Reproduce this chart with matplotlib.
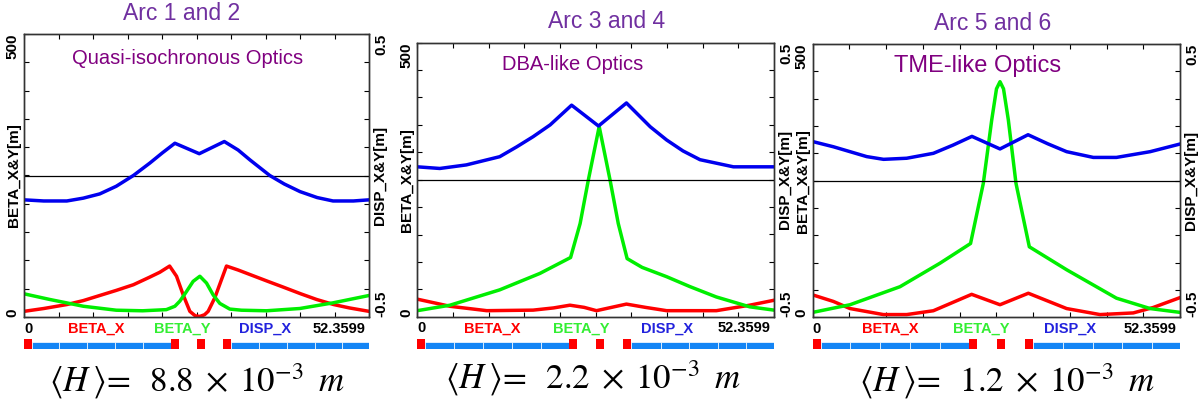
import numpy as np
import matplotlib
matplotlib.use('Agg')
import matplotlib.pyplot as plt

plt.rcParams['font.family'] = ['Liberation Sans', 'DejaVu Sans']
plt.rcParams['mathtext.fontset'] = 'stix'

# cell length [m]
s_max = 52.3599

titles = ['Arc 1 and 2', 'Arc 3 and 4', 'Arc 5 and 6']
optics = ['Quasi-isochronous Optics', 'DBA-like Optics', 'TME-like Optics']
h_mean = ['8.8', '2.2', '1.2']

# ---- Arc 1 and 2 ----
a12_s_dx = [0, 3.0, 6.5, 9.0, 11.5, 14.0, 16.6, 19.1, 21.0, 22.9, 26.6, 30.4, 32.5,
            34.3, 37.3, 39.5, 41.9, 44.5, 46.9, 50.0, 52.36]
a12_dx = [-0.086, -0.090, -0.090, -0.080, -0.065, -0.038, 0.0, 0.044, 0.080, 0.114,
          0.077, 0.120, 0.090, 0.055, 0.0, -0.030, -0.057, -0.078, -0.090, -0.090, -0.086]
a12_s_bx = [0, 3.0, 6.5, 9.0, 11.5, 14.0, 16.6, 19.0, 20.6, 22.1, 23.15, 24.16, 25.17,
            26.0, 26.69, 27.4, 27.95, 28.96, 29.97, 30.73, 32.5, 34.3, 37.0, 39.3,
            42.0, 44.4, 47.0, 49.4, 52.36]
a12_bx = [10, 15, 22, 29, 38, 47, 57, 70, 79, 90, 72, 39, 10, 2, 1, 4, 10, 34, 66, 90,
          83, 75, 63, 53, 41, 31, 22, 16, 10]
a12_s_by = [0, 3.9, 9.0, 14.0, 18.0, 21.6, 22.9, 23.65, 24.66, 25.67, 26.69, 27.7,
            28.71, 29.72, 31.23, 33.0, 36.8, 41.85, 46.9, 52.36]
a12_by = [41, 31, 19, 12, 11, 13, 19, 28, 45, 63, 72, 60, 39, 24, 14, 12, 11, 15, 25, 38]

# ---- Arc 3 and 4 ----
a34_s_dx = [0, 3.3, 7.2, 12.1, 14.6, 17.0, 19.5, 22.65, 26.6, 30.7, 34.2, 36.6, 39.0,
            41.5, 46.4, 52.36]
a34_dx = [0.047, 0.041, 0.054, 0.084, 0.120, 0.157, 0.200, 0.272, 0.196, 0.280, 0.193,
          0.145, 0.105, 0.073, 0.047, 0.047]
a34_s_bx = [0, 4.8, 10.2, 17.0, 20.0, 22.4, 24.5, 26.3, 28.5, 30.7, 33.5, 36.6, 43.9,
            48.8, 52.36]
a34_bx = [32, 19, 11, 12, 16, 21, 17, 11, 17, 23, 17, 11, 11, 21, 30]
a34_s_by = [0, 4.8, 12.1, 18.0, 22.5, 23.9, 25.1, 25.9, 26.7, 27.5, 28.3, 29.5, 30.8,
            33.0, 36.6, 40.0, 43.9, 48.8, 52.36]
a34_by = [11, 21, 49, 79, 108, 170, 249, 298, 347, 298, 249, 170, 106, 90, 73, 55, 36,
          18, 12]

# ---- Arc 5 and 6 ----
a56_s_dx = [0, 2.95, 7.7, 10.1, 13.4, 17.2, 20.0, 22.7, 26.7, 30.7, 33.5, 36.2, 40.0,
            43.3, 48.1, 52.36]
a56_dx = [0.143, 0.124, 0.088, 0.078, 0.082, 0.100, 0.130, 0.162, 0.116, 0.168, 0.135,
          0.106, 0.085, 0.085, 0.106, 0.134]
a56_s_bx = [0, 2.95, 5.32, 10.07, 13.4, 17.2, 22.66, 26.7, 30.74, 36.2, 40.95, 45.7,
            48.55, 52.36]
a56_bx = [41, 29, 16, 5, 5, 12, 42, 23, 44, 16, 5, 8, 18, 36]
a56_s_by = [0, 5.32, 12.45, 18.15, 22.5, 24.32, 25.52, 26.2, 26.7, 27.2, 27.89, 28.98,
            30.88, 36.2, 43.3, 48.1, 52.36]
a56_by = [9, 23, 56, 99, 135, 245, 361, 418, 431, 418, 361, 245, 129, 87, 35, 16, 9]

# magnet layout of the cell (same for all arcs)
dipoles = [(0, 1.15), (22.3, 23.45), (26.3, 27.4), (30.2, 31.35)]
quad_edges = [1.15, 5.36, 9.6, 13.85, 18.1, 22.3, 31.35, 35.7, 39.9, 44.1, 48.3, s_max]

arcs = [
    (a12_s_bx, a12_bx, a12_s_by, a12_by, a12_s_dx, a12_dx),
    (a34_s_bx, a34_bx, a34_s_by, a34_by, a34_s_dx, a34_dx),
    (a56_s_bx, a56_bx, a56_s_by, a56_by, a56_s_dx, a56_dx),
]

# panel boxes in pixels: left, top, right, bottom
boxes = [(24, 34, 369, 317), (417.3, 42.7, 774, 316.7), (812.7, 44, 1180, 317.3)]
title_xy = [(182, 13), (607, 22), (993, 23)]
optics_xy = [(0.475, 0.912), (0.4365, 0.922), (0.45, 0.919)]
optics_size = [14.5, 14.5, 17]
h_xy = [(197, 381), (593, 378), (1007, 381)]

W, H = 1200, 403
fig = plt.figure(figsize=(W / 100, H / 100), dpi=100)

for i in range(3):
    l, t, r, b = boxes[i]
    ax = fig.add_axes([l / W, 1 - b / H, (r - l) / W, (b - t) / H])
    ax2 = ax.twinx()
    sbx, bx, sby, by, sdx, dx = arcs[i]

    ax.plot(sbx, bx, color='#ff0000', lw=2.5, solid_joinstyle='round')
    ax.plot(sby, by, color='#00ee00', lw=2.5, solid_joinstyle='round')
    ax2.axhline(0, color='black', lw=0.9)
    ax2.plot(sdx, dx, color='#0000ee', lw=2.5, solid_joinstyle='round')

    ax.set_xlim(0, s_max)
    ax.set_ylim(0, 500)
    ax2.set_ylim(-0.5, 0.5)

    ax.set_xticks(np.linspace(0, s_max, 11))
    ax.set_xticklabels([])
    ax.set_yticks(np.arange(0, 501, 50))
    ax.set_yticklabels(['0'] + [''] * 9 + ['500'], rotation=90, fontweight='bold', fontsize=11)
    ax.get_yticklabels()[0].set_va('bottom')
    ax.get_yticklabels()[-1].set_va('top')
    ax.tick_params(axis='x', direction='in', top=True, length=3.5, width=0.8)
    ax.tick_params(axis='y', direction='in', length=3.5, width=0.8, pad=3)

    ax2.set_yticks(np.linspace(-0.5, 0.5, 11))
    ax2.set_yticklabels(['-0.5'] + [''] * 9 + ['0.5'], rotation=90, fontweight='bold', fontsize=11)
    ax2.get_yticklabels()[0].set_va('bottom')
    ax2.get_yticklabels()[-1].set_va('top')
    ax2.tick_params(axis='y', direction='in', length=3.5, width=0.8, pad=4)

    for a in (ax, ax2):
        for sp in a.spines.values():
            sp.set_color('#333333')
            sp.set_linewidth(1.0)

    ax.set_ylabel('BETA_X&Y[m]', fontweight='bold', fontsize=11)
    ax.yaxis.set_label_coords(-0.008, 0.5)
    ax2.set_ylabel('DISP_X&Y[m]', fontweight='bold', fontsize=11)
    ax2.yaxis.set_label_coords(1.011, 0.5)

    # curve names under the frame
    ty = -0.043
    ax.text(0.0, ty, '0', transform=ax.transAxes, ha='left', va='center',
            fontweight='bold', fontsize=10.5)
    ax.text(0.21, ty, 'BETA_X', transform=ax.transAxes, ha='center', va='center',
            fontweight='bold', fontsize=10.5, color='#ff0000')
    ax.text(0.46, ty, 'BETA_Y', transform=ax.transAxes, ha='center', va='center',
            fontweight='bold', fontsize=10.5, color='#33ee33')
    ax.text(0.70, ty, 'DISP_X', transform=ax.transAxes, ha='center', va='center',
            fontweight='bold', fontsize=10.5, color='#2222dd')
    ax.text(0.99, ty, '%g' % s_max, transform=ax.transAxes, ha='right', va='center',
            fontweight='bold', fontsize=10.5)

    ax.text(optics_xy[i][0], optics_xy[i][1], optics[i], transform=ax.transAxes,
            ha='center', va='center', fontsize=optics_size[i], color='#800080')

    # magnet layout bar
    axm = fig.add_axes([l / W, 1 - 348.5 / H, (r - l) / W, 9.5 / H])
    axm.set_xlim(0, s_max)
    axm.set_ylim(0, 1)
    axm.axis('off')
    quads = [(quad_edges[k], quad_edges[k + 1] - quad_edges[k])
             for k in range(len(quad_edges) - 1) if quad_edges[k] != 22.3]
    axm.broken_barh(quads, (0, 0.72), facecolor='#1485f5', edgecolor='white', linewidth=0.5)
    axm.broken_barh([(d0, d1 - d0) for d0, d1 in dipoles], (0, 1), facecolor='#ff0000')

    fig.text(title_xy[i][0] / W, 1 - title_xy[i][1] / H, titles[i], ha='center',
             va='center', fontsize=16.5, color='#7030a0')
    fig.text(h_xy[i][0] / W, 1 - h_xy[i][1] / H,
             r'$\langle H\,\rangle\!=\;\;' + h_mean[i] + r'\;\times\;10^{-3}\;\;m$',
             ha='center', va='center', fontsize=25)

fig.savefig('out.png', dpi=100)
